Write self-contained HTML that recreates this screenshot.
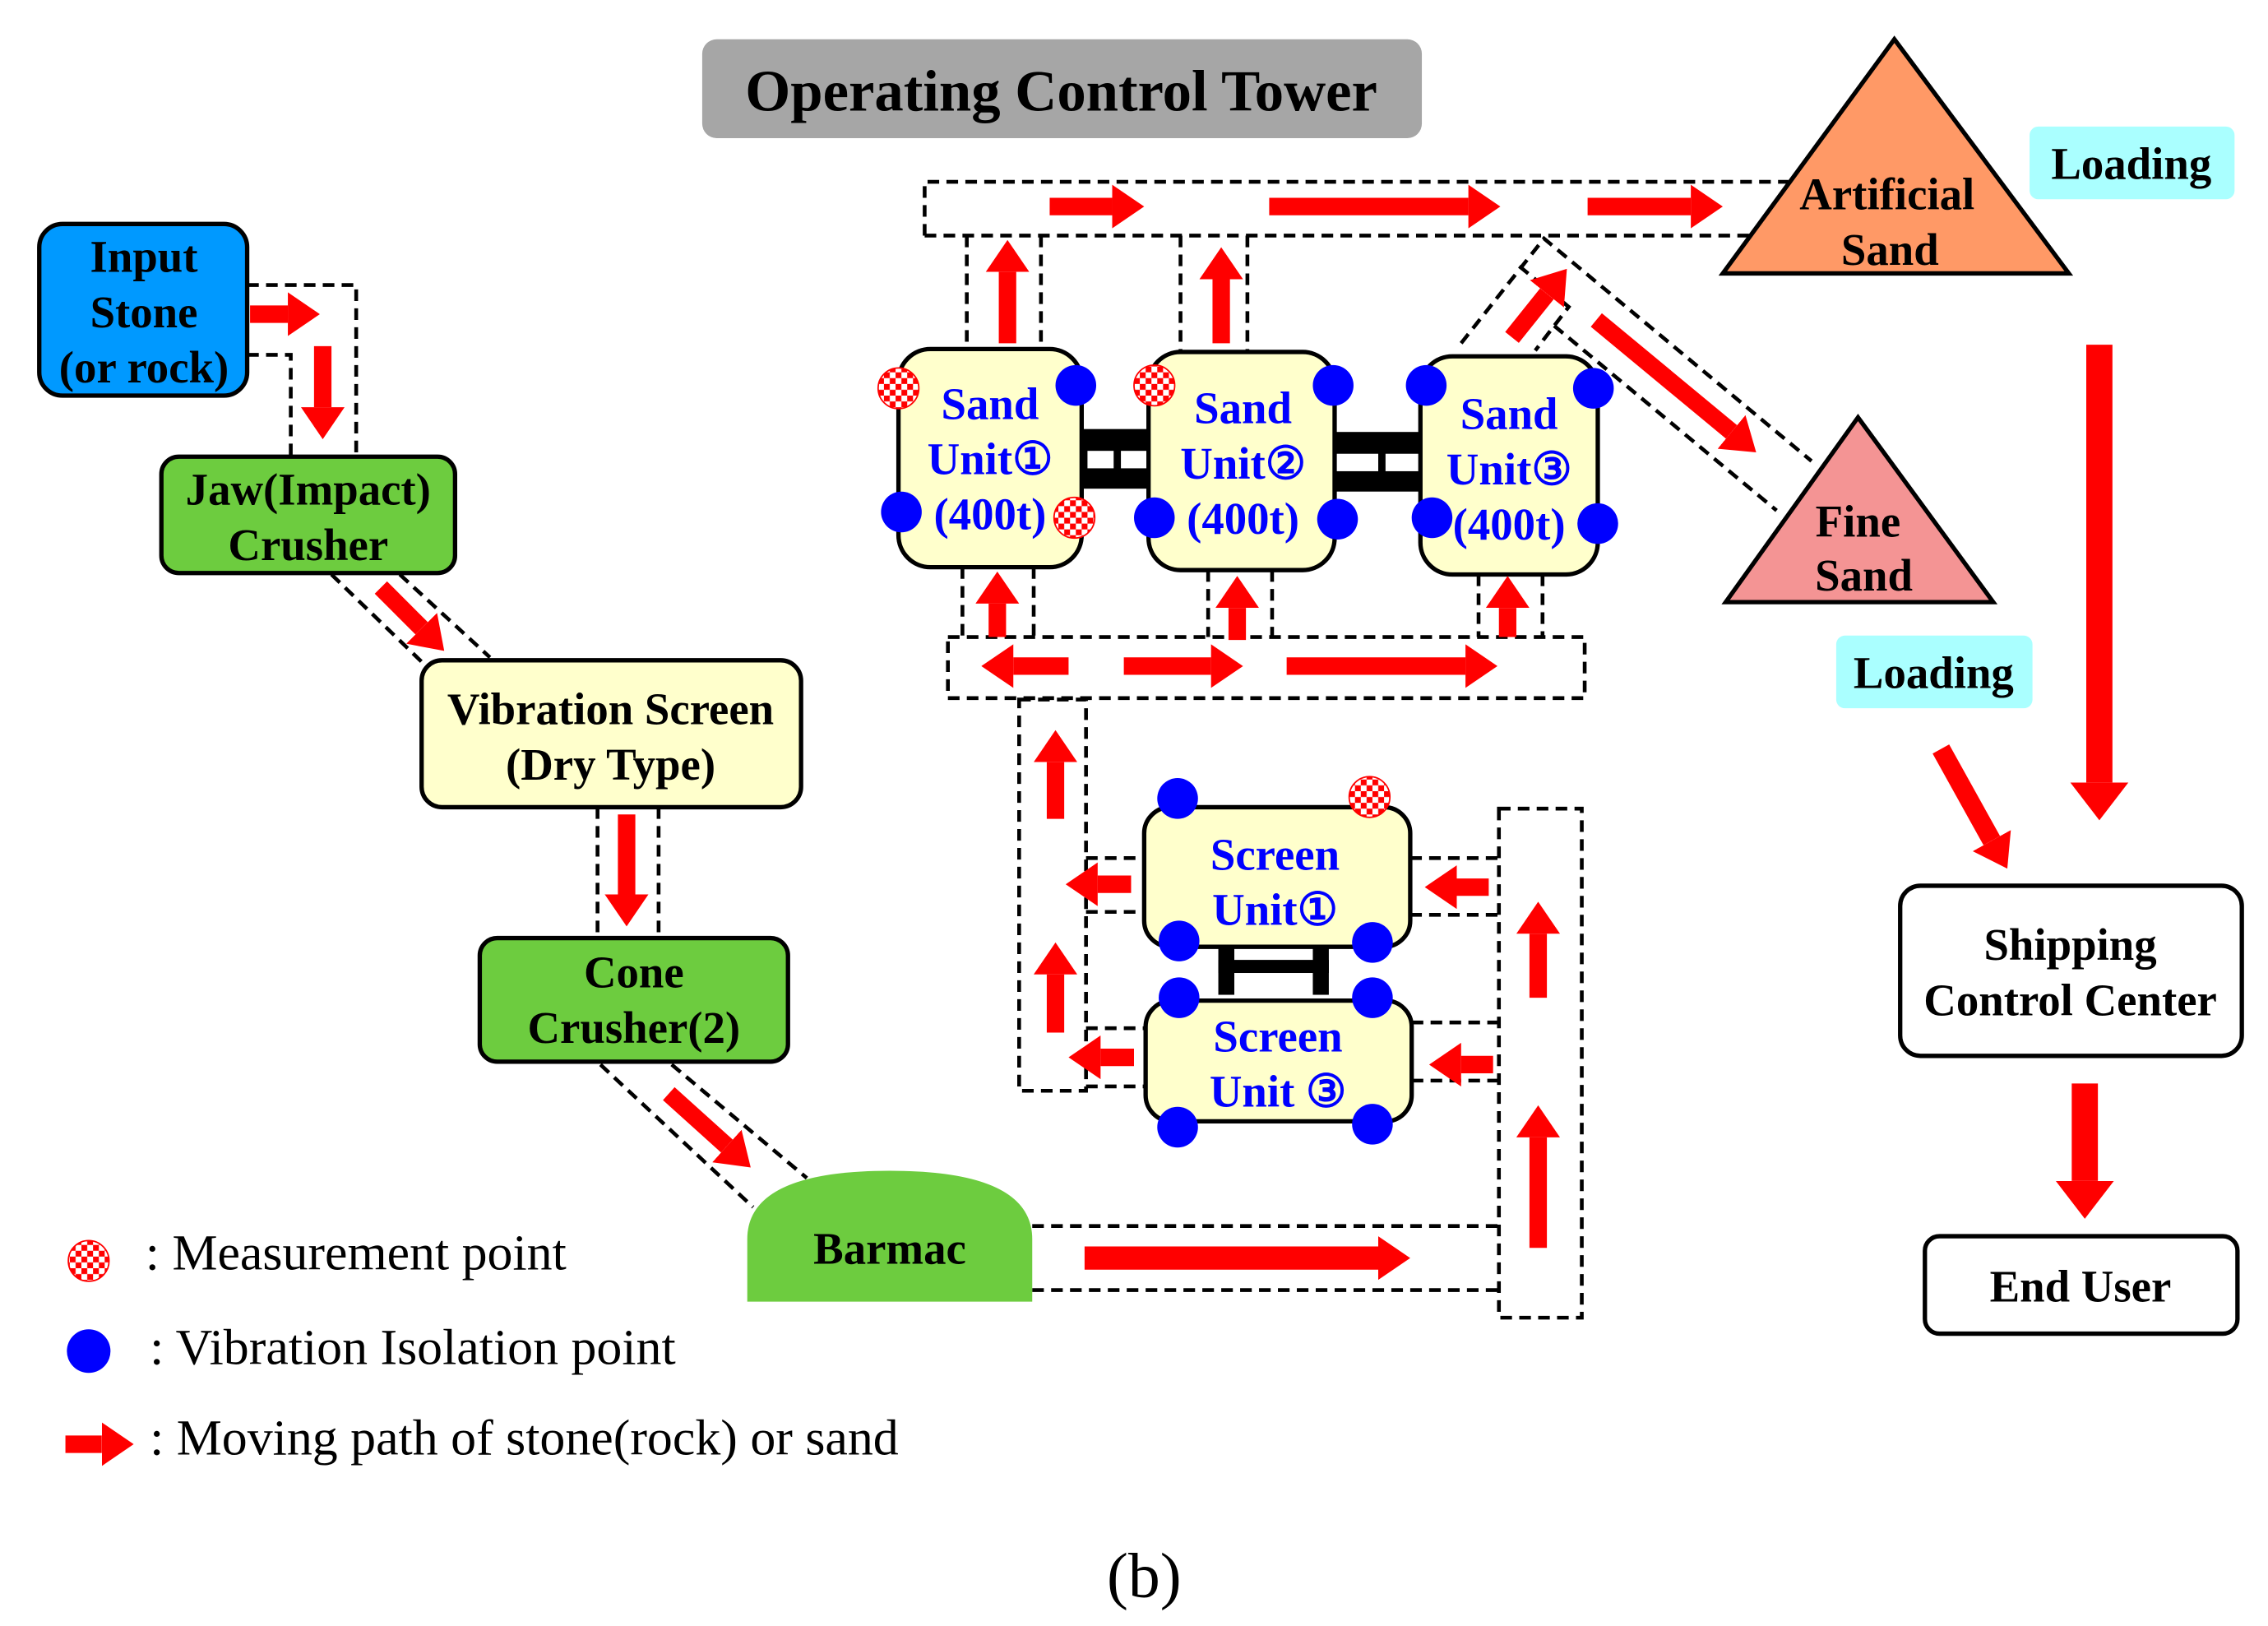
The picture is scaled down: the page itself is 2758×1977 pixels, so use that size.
<!DOCTYPE html>
<html><head><meta charset="utf-8"><style>
html,body{margin:0;padding:0;background:#fff}
svg{display:block}
text{font-family:"Liberation Serif",serif;font-weight:bold;text-anchor:middle}
</style></head><body>
<svg width="2758" height="1977" viewBox="0 0 1560 1118" preserveAspectRatio="none" xmlns="http://www.w3.org/2000/svg">
<defs>
<marker id="h" markerUnits="userSpaceOnUse" markerWidth="22" markerHeight="30" viewBox="0 0 22 30" refX="0" refY="15" orient="auto"><path d="M0,0 L22,15 L0,30z" fill="#ff0000"/></marker>
<marker id="hb" markerUnits="userSpaceOnUse" markerWidth="26" markerHeight="40" viewBox="0 0 26 40" refX="0" refY="20" orient="auto"><path d="M0,0 L26,20 L0,40z" fill="#ff0000"/></marker>
<pattern id="ck" width="8" height="8" patternUnits="userSpaceOnUse"><rect width="8" height="8" fill="#fff"/><rect width="4" height="4" fill="#f00"/><rect x="4" y="4" width="4" height="4" fill="#f00"/></pattern>
</defs>
<rect width="1560" height="1118" fill="#fff"/>

<g fill="none" stroke="#000" stroke-width="2.6" stroke-dasharray="8,5">
<path d="M170,196 L245,196 L245,313 M170,244 L200,244 L200,313"/>
<path d="M228,395 L290,455 M275,395 L337,452"/>
<path d="M411,555 L411,645 M453,555 L453,645"/>
<path d="M413,732 L518,830 M462,732 L555,810"/>
<path d="M710,843 L1031,843 M710,887 L1031,887"/>
<rect x="1031" y="556" width="57" height="350"/>
<rect x="701" y="481" width="46" height="269"/>
<path d="M747,590 L787,590 M747,627 L787,627 M747,707 L788,707 M747,747 L788,747"/>
<path d="M970,590 L1031,590 M970,629 L1031,629 M971,703 L1031,703 M971,743 L1031,743"/>
<rect x="652" y="438" width="438" height="42"/>
<path d="M662,390 L662,438 M711,390 L711,438 M831,392 L831,438 M875,392 L875,438 M1017,395 L1017,438 M1061,395 L1061,438"/>
<path d="M636,162 L636,125 L1230,125 M636,162 L1230,162"/>
<path d="M665,162 L665,240 M716,162 L716,240 M812,162 L812,242 M858,162 L858,242"/>
<path d="M1005,236 L1062,164 L1246,317 M1069,224 L1222,351 M1045,183 L1079,211 L1056,241"/>
</g>

<rect x="483" y="27" width="495" height="68" rx="10" fill="#a6a6a6"/>
<text x="730" y="76" font-size="40">Operating Control Tower</text>

<rect x="27" y="154" width="143" height="118" rx="16" fill="#0099ff" stroke="#000" stroke-width="3"/>
<text x="99" y="187" font-size="31">Input</text>
<text x="99" y="225" font-size="31">Stone</text>
<text x="99" y="263" font-size="31">(or rock)</text>
<rect x="111" y="314" width="202" height="80" rx="12" fill="#6dcc3f" stroke="#000" stroke-width="3"/>
<text x="212" y="347" font-size="31">Jaw(Impact)</text>
<text x="212" y="385" font-size="31">Crusher</text>
<rect x="290" y="454" width="261" height="101" rx="14" fill="#ffffcc" stroke="#000" stroke-width="3"/>
<text x="420" y="498" font-size="31">Vibration Screen</text>
<text x="420" y="536" font-size="31">(Dry Type)</text>
<rect x="330" y="645" width="212" height="85" rx="12" fill="#6dcc3f" stroke="#000" stroke-width="3"/>
<text x="436" y="679" font-size="31">Cone</text>
<text x="436" y="717" font-size="31">Crusher(2)</text>
<path d="M514,895 L514,852 Q514,805 612,805 Q710,805 710,852 L710,895 Z" fill="#6dcc3f"/>
<text x="612" y="869" font-size="31">Barmac</text>

<g fill="#000">
<rect x="744" y="295" width="46" height="41"/><rect x="918" y="297" width="59" height="41"/>
</g>
<g fill="#fff">
<rect x="748" y="310" width="18" height="12"/><rect x="771" y="310" width="19" height="12"/>
<rect x="918" y="312" width="30" height="12"/><rect x="953" y="312" width="24" height="12"/>
</g>
<g fill="#ffffcc" stroke="#000" stroke-width="3">
<rect x="618" y="240" width="126" height="150" rx="22"/>
<rect x="790" y="242" width="128" height="150" rx="22"/>
<rect x="977" y="245" width="122" height="150" rx="22"/>
</g>
<g fill="#0000ff" font-size="31">
<text x="681" y="288">Sand</text><text x="681" y="326">Unit①</text><text x="681" y="364">(400t)</text>
<text x="855" y="291">Sand</text><text x="855" y="329">Unit②</text><text x="855" y="367">(400t)</text>
<text x="1038" y="295">Sand</text><text x="1038" y="333">Unit③</text><text x="1038" y="371">(400t)</text>
</g>

<rect x="838" y="648" width="11" height="36" fill="#000"/><rect x="903" y="648" width="11" height="36" fill="#000"/>
<rect x="838" y="660" width="76" height="9" fill="#000"/>
<g fill="#ffffcc" stroke="#000" stroke-width="3">
<rect x="787" y="555" width="183" height="96" rx="18"/>
<rect x="788" y="688" width="183" height="83" rx="18"/>
</g>
<g fill="#0000ff" font-size="31">
<text x="877" y="598">Screen</text><text x="877" y="636">Unit①</text>
<text x="879" y="723">Screen</text><text x="879" y="761">Unit ③</text>
</g>

<g fill="#0000ff">
<circle cx="740" cy="265" r="14"/><circle cx="620" cy="352" r="14"/>
<circle cx="917" cy="265" r="14"/><circle cx="794" cy="356" r="14"/><circle cx="920" cy="357" r="14"/>
<circle cx="981" cy="265" r="14"/><circle cx="1096" cy="267" r="14"/><circle cx="985" cy="356" r="14"/><circle cx="1099" cy="360" r="14"/>
<circle cx="810" cy="549" r="14"/><circle cx="811" cy="647" r="14"/><circle cx="944" cy="648" r="14"/>
<circle cx="811" cy="686" r="14"/><circle cx="944" cy="686" r="14"/><circle cx="810" cy="775" r="14"/><circle cx="944" cy="773" r="14"/>
<circle cx="61" cy="929" r="15"/>
</g>
<g fill="url(#ck)" stroke="#f00" stroke-width="1">
<circle cx="618" cy="267" r="14"/><circle cx="739" cy="356" r="14"/><circle cx="794" cy="265" r="14"/><circle cx="942" cy="548" r="14"/>
<circle cx="61" cy="867" r="14"/>
</g>

<polygon points="1303,27 1185,188 1423,188" fill="#ff9966" stroke="#000" stroke-width="3"/>
<text x="1298" y="144" font-size="31">Artificial</text><text x="1300" y="182" font-size="31">Sand</text>
<polygon points="1278,287 1187,414 1371,414" fill="#f49494" stroke="#000" stroke-width="3"/>
<text x="1278" y="369" font-size="31">Fine</text><text x="1282" y="406" font-size="31">Sand</text>
<rect x="1396" y="87" width="141" height="50" rx="6" fill="#aaffff"/>
<text x="1466" y="123" font-size="31">Loading</text>
<rect x="1263" y="437" width="135" height="50" rx="6" fill="#aaffff"/>
<text x="1330" y="473" font-size="31">Loading</text>

<rect x="1307" y="609" width="235" height="117" rx="14" fill="#fff" stroke="#000" stroke-width="3"/>
<text x="1424" y="660" font-size="31">Shipping</text><text x="1424" y="698" font-size="31">Control Center</text>
<rect x="1324" y="850" width="215" height="67" rx="10" fill="#fff" stroke="#000" stroke-width="3"/>
<text x="1431" y="895" font-size="31">End User</text>

<g stroke="#ff0000" stroke-width="12" fill="none" marker-end="url(#h)">
<line x1="172" y1="216" x2="198" y2="216"/>
<line x1="222" y1="238" x2="222" y2="280"/>
<line x1="262" y1="404" x2="290" y2="432"/>
<line x1="431" y1="560" x2="431" y2="615"/>
<line x1="460" y1="752" x2="500" y2="788"/>
<line x1="746" y1="865" x2="948" y2="865" stroke-width="16"/>
<line x1="1058" y1="858" x2="1058" y2="782"/>
<line x1="1058" y1="686" x2="1058" y2="642"/>
<line x1="778" y1="608" x2="755" y2="608"/>
<line x1="780" y1="727" x2="757" y2="727"/>
<line x1="1024" y1="610" x2="1002" y2="610"/>
<line x1="1027" y1="732" x2="1005" y2="732"/>
<line x1="726" y1="563" x2="726" y2="524"/>
<line x1="726" y1="710" x2="726" y2="670"/>
<line x1="735" y1="458" x2="697" y2="458"/>
<line x1="773" y1="458" x2="833" y2="458"/>
<line x1="885" y1="458" x2="1008" y2="458"/>
<line x1="686" y1="438" x2="686" y2="415"/>
<line x1="851" y1="440" x2="851" y2="418"/>
<line x1="1037" y1="438" x2="1037" y2="418"/>
<line x1="693" y1="236" x2="693" y2="187"/>
<line x1="840" y1="236" x2="840" y2="192"/>
<line x1="722" y1="142" x2="765" y2="142"/>
<line x1="873" y1="142" x2="1010" y2="142"/>
<line x1="1092" y1="142" x2="1163" y2="142"/>
<line x1="1040" y1="232" x2="1064" y2="202"/>
<line x1="1098" y1="220" x2="1191" y2="297"/>
<line x1="1335" y1="515" x2="1370" y2="578" stroke-width="13"/>
<line x1="45" y1="993" x2="70" y2="993"/>
</g>
<g stroke="#ff0000" stroke-width="18" fill="none" marker-end="url(#hb)">
<line x1="1444" y1="237" x2="1444" y2="538"/>
<line x1="1434" y1="745" x2="1434" y2="812"/>
</g>

<text x="100" y="873" font-size="35" style="font-weight:normal;text-anchor:start">: Measurement point</text>
<text x="103" y="938" font-size="35" style="font-weight:normal;text-anchor:start">: Vibration Isolation point</text>
<text x="103" y="1000" font-size="35" style="font-weight:normal;text-anchor:start">: Moving path of stone(rock) or sand</text>
<text x="787" y="1098" font-size="44" style="font-weight:normal">(b)</text>
</svg>
</body></html>
